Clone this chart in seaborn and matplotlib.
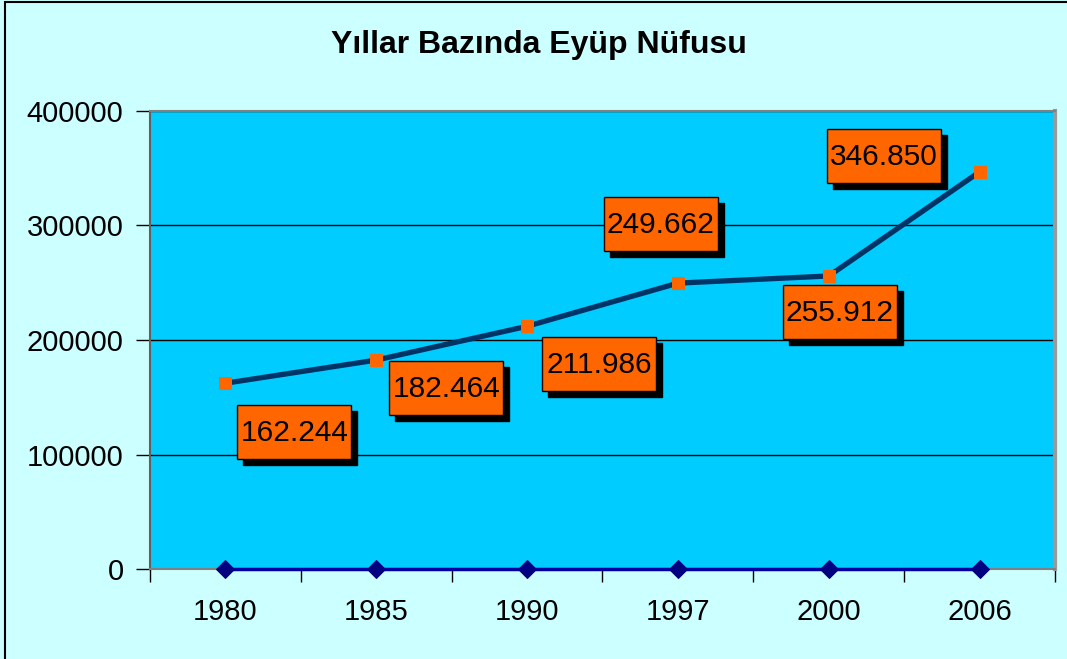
import matplotlib
matplotlib.use("Agg")
import matplotlib.pyplot as plt
import matplotlib.transforms as mtransforms
from matplotlib.patches import Rectangle
import seaborn as sns
import pandas as pd

# ---- data ----
years = ["1980", "1985", "1990", "1997", "2000", "2006"]
population = [162244, 182464, 211986, 249662, 255912, 346850]
baseline = [0, 0, 0, 0, 0, 0]
title = "Yıllar Bazında Eyüp Nüfusu"
y_ticks = [0, 100000, 200000, 300000, 400000]

# label box offsets (pixels, centre of box relative to the point)
label_dx = [69, 70, 72, -17, 11, -96]
label_dy = [-49, -28, -38, 59, -36, 16]

df = pd.DataFrame({"yil": years, "nufus": population, "taban": baseline})

sns.set_theme(style="white")
plt.rcParams["font.family"] = ["Liberation Sans", "DejaVu Sans"]
plt.rcParams["text.color"] = "black"
plt.rcParams["xtick.color"] = "black"
plt.rcParams["ytick.color"] = "black"

W, H = 1067, 659
fig = plt.figure(figsize=(W / 100, H / 100), dpi=100)
fig.patch.set_facecolor("#CCFFFF")
ax = fig.add_axes([150 / W, 1 - 569 / H, (1055 - 150) / W, (569 - 111) / H])
ax.set_facecolor("#00CCFF")

# outer chart border (left/top visible)
fig.patches.append(Rectangle((5 / W, -0.1), 1.2, 1.1 - 2 / H, transform=fig.transFigure,
                             fill=False, edgecolor="black", linewidth=1.5, clip_on=False))

sns.lineplot(data=df, x="yil", y="taban", ax=ax, sort=False, color="#0000A0",
             linewidth=2.5, marker="D", markersize=9, markerfacecolor="#000080",
             markeredgecolor="#000080", clip_on=False, zorder=4)
sns.lineplot(data=df, x="yil", y="nufus", ax=ax, sort=False, color="#003366",
             linewidth=3.8, marker="s", markersize=8.5, markerfacecolor="#FF6600",
             markeredgecolor="#FF6600", zorder=5)

ax.set_xlim(-0.5, len(years) - 0.5)
ax.set_ylim(0, 400000)
ax.set_yticks(y_ticks)
ax.set_yticklabels([str(v) for v in y_ticks])
ax.set_xticks(range(len(years)))
ax.set_xticklabels(years)
ax.set_xticks([i - 0.5 for i in range(len(years) + 1)], minor=True)
ax.set_xlabel("")
ax.set_ylabel("")

ax.yaxis.grid(True, color="black", linewidth=1)
ax.xaxis.grid(False)
ax.set_axisbelow(True)

ax.tick_params(axis="y", which="major", direction="out", length=10, width=1,
               color="black", labelcolor="black", labelsize=21, pad=9, left=True)
ax.tick_params(axis="x", which="major", length=0, labelsize=21, labelcolor="black", pad=21)
ax.tick_params(axis="x", which="minor", direction="out", length=9, width=1,
               color="black", bottom=True)

for side in ["left", "bottom", "top"]:
    ax.spines[side].set_color("#808080")
    ax.spines[side].set_linewidth(1.5)
ax.spines["left"].set_color("#606060")
ax.spines["right"].set_color("#999999")
ax.spines["right"].set_linewidth(3)

# data label boxes
bw, bh, sh = 114, 54, 6
for i, (v, dx, dy) in enumerate(zip(population, label_dx, label_dy)):
    base = mtransforms.ScaledTranslation(i, v, ax.transData)
    tr = mtransforms.IdentityTransform() + base
    ax.add_patch(Rectangle((dx - bw / 2 + sh, dy - bh / 2 - sh), bw, bh, transform=tr,
                           facecolor="black", edgecolor="black", zorder=6, clip_on=False))
    ax.add_patch(Rectangle((dx - bw / 2, dy - bh / 2), bw, bh, transform=tr,
                           facecolor="#FF6600", edgecolor="black", linewidth=1,
                           zorder=7, clip_on=False))
    label = f"{v:,}".replace(",", ".")
    ax.annotate(label, xy=(i, v), xytext=(dx, dy - 1), textcoords="offset pixels",
                ha="center", va="center", fontsize=21.5, color="black", zorder=8)

fig.text(539 / W, 1 - 45 / H, title, ha="center", va="center", fontsize=23,
         fontweight="bold", color="black")

fig.savefig("out.png", dpi=100, facecolor=fig.get_facecolor())
